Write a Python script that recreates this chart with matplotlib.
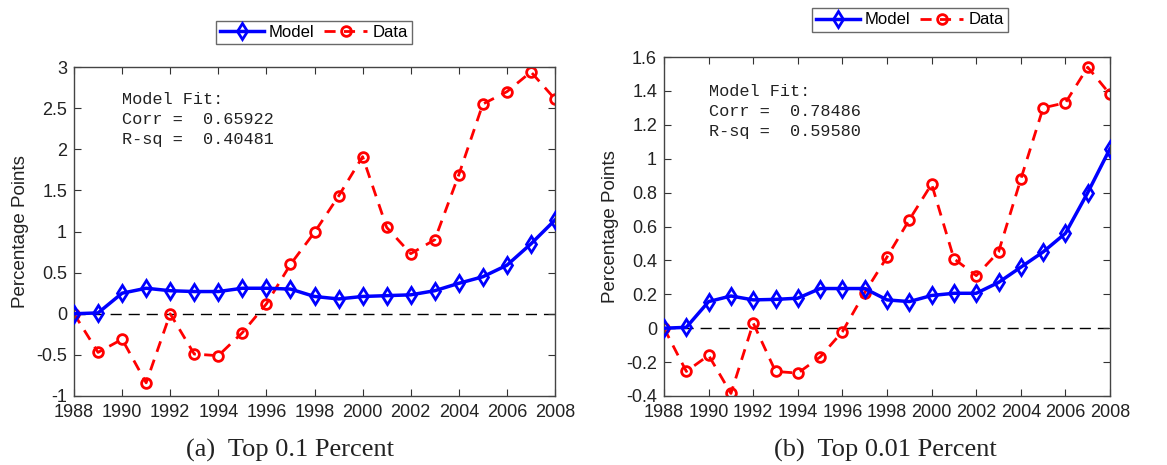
import numpy as np
import matplotlib
matplotlib.use('Agg')
import matplotlib.pyplot as plt

years = list(range(1988, 2009))

model_a = [0.0, 0.01, 0.25, 0.31, 0.28, 0.27, 0.27, 0.31, 0.31, 0.30, 0.21,
           0.18, 0.21, 0.22, 0.23, 0.28, 0.37, 0.45, 0.59, 0.85, 1.14]
data_a = [0.0, -0.47, -0.31, -0.84, 0.0, -0.49, -0.51, -0.23, 0.12, 0.60, 0.99,
          1.43, 1.91, 1.05, 0.73, 0.90, 1.69, 2.55, 2.70, 2.94, 2.61]

model_b = [0.0, 0.005, 0.157, 0.19, 0.167, 0.17, 0.177, 0.234, 0.234, 0.234, 0.167,
           0.157, 0.193, 0.206, 0.206, 0.27, 0.36, 0.45, 0.56, 0.80, 1.06]
data_b = [0.0, -0.255, -0.16, -0.385, 0.03, -0.255, -0.265, -0.17, -0.02, 0.21, 0.42,
          0.64, 0.85, 0.41, 0.31, 0.45, 0.88, 1.30, 1.33, 1.54, 1.38]

fit_a = ['Model Fit:', 'Corr =  0.65922', 'R-sq =  0.40481']
fit_b = ['Model Fit:', 'Corr =  0.78486', 'R-sq =  0.59580']

captions = ['(a)  Top 0.1 Percent', '(b)  Top 0.01 Percent']

plt.rcParams['font.family'] = ['Liberation Sans', 'DejaVu Sans']

fig = plt.figure(figsize=(11.67, 4.65), dpi=100)
ax1 = fig.add_axes([0.0634, 0.1484, 0.4122, 0.7075])
ax2 = fig.add_axes([0.569, 0.1484, 0.3822, 0.729])


def draw_panel(ax, model, data, ylim, yticks, fit, legend_xy, text_y):
    ax.axhline(0, color='black', lw=1, ls=(0, (8, 5)), zorder=1)
    lm, = ax.plot(years, model, color='#0000ff', lw=2.5, marker='d', markersize=8.5,
                  markerfacecolor='none', markeredgewidth=2, label='Model', zorder=3)
    ld, = ax.plot(years, data, color='#ff0000', lw=2, ls=(0, (4, 3)), marker='o',
                  markersize=7, markerfacecolor='none', markeredgewidth=2,
                  label='Data', zorder=2)
    ax.set_xlim(1988, 2008)
    ax.set_ylim(*ylim)
    ax.set_xticks(range(1988, 2009, 2))
    ax.set_yticks(yticks)
    ax.set_yticklabels([f'{t:g}' for t in yticks])
    ax.tick_params(direction='in', top=True, right=True, labelsize=13,
                   length=5, color='#333333', labelcolor='#222222')
    ax.tick_params(axis='x', pad=6)
    ax.tick_params(axis='y', pad=5)
    for s in ax.spines.values():
        s.set_color('#444444')
        s.set_linewidth(1)
    ax.set_ylabel('Percentage Points', fontsize=13.5, color='#222222', labelpad=5)
    ax.text(0.10, text_y, '\n'.join(fit), transform=ax.transAxes, va='top', ha='left',
            family='Liberation Mono', fontsize=12.2, linespacing=1.42, color='#222222')
    fig.legend(handles=[lm, ld], loc='center', bbox_to_anchor=legend_xy, ncol=2,
               fontsize=12, frameon=True, fancybox=False, edgecolor='#444444',
               handlelength=2.6, columnspacing=0.6, handletextpad=0.3,
               borderpad=0.25, borderaxespad=0)


draw_panel(ax1, model_a, data_a, (-1, 3), [-1, -0.5, 0, 0.5, 1, 1.5, 2, 2.5, 3],
           fit_a, (314 / 1167, 1 - 32.5 / 465), 0.925)
draw_panel(ax2, model_b, data_b, (-0.4, 1.6), [-0.4, -0.2, 0, 0.2, 0.4, 0.6, 0.8, 1, 1.2, 1.4, 1.6],
           fit_b, (910 / 1167, 1 - 20 / 465), 0.92)

fig.text(290 / 1167, 1 - 450 / 465, captions[0], ha='center', va='center',
         family='Liberation Serif', fontsize=19, color='#222222')
fig.text(885 / 1167, 1 - 450 / 465, captions[1], ha='center', va='center',
         family='Liberation Serif', fontsize=19, color='#222222')

fig.savefig('out.png', dpi=100)
